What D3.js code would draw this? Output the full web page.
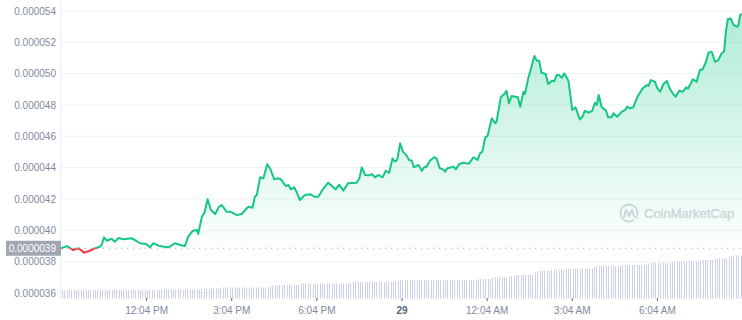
<!DOCTYPE html>
<html lang="en">
<head>
  <meta charset="UTF-8">
  <title>Price chart with D3.js</title>
  <style>
    body { margin: 0; background: #fff; }
    svg text { font-family: "Liberation Sans", Arial, sans-serif; }
  </style>
</head>
<body>

  <svg id="chart" width="742" height="320"></svg>

  <script src="https://d3js.org/d3.v7.min.js"></script>

  <script>
    // price in units of 1e-6 USD, minutes after 9:04 AM on the 28th
    var priceMinutes = [0, 13, 25, 37, 49, 61, 68, 82, 86, 91, 97, 107, 114, 121, 132, 149, 159, 167, 180, 188,
      195, 209, 224, 230, 241, 252, 262, 269, 278, 287, 290, 298, 304, 310, 317, 326, 334, 340, 350, 359,
      372, 382, 396, 405, 410, 414, 421, 428, 436, 442, 451, 459, 465, 475, 481, 486, 493, 498, 505, 516,
      527, 536, 544, 555, 565, 578, 581, 588, 597, 607, 625, 631, 636, 643, 653, 657, 664, 671, 680, 687,
      694, 701, 706, 711, 717, 723, 730, 736, 742, 746, 756, 763, 768, 773, 780, 789, 794, 801, 808, 812,
      817, 830, 835, 842, 851, 858, 863, 872, 881, 886, 891, 897, 902, 911, 918, 921, 930, 937, 942, 947,
      953, 966, 971, 978, 981, 988, 994, 1001, 1006, 1011, 1016, 1025, 1030, 1038, 1043, 1048, 1053, 1059, 1064, 1073,
      1081, 1088, 1097, 1102, 1108, 1115, 1123, 1129, 1133, 1137, 1143, 1149, 1152, 1157, 1164, 1168, 1176, 1186, 1193, 1197,
      1203, 1210, 1219, 1230, 1239, 1242, 1247, 1256, 1261, 1267, 1274, 1281, 1288, 1295, 1300, 1307, 1315, 1322, 1326, 1336,
      1344, 1351, 1357, 1364, 1369, 1376, 1383, 1390, 1397, 1402, 1406, 1410, 1416, 1422, 1429, 1432, 1436, 1440];

    var prices = [38.85, 38.99, 38.74, 38.85, 38.57, 38.69, 38.80, 38.95, 39.06, 39.55, 39.33, 39.46, 39.27, 39.50, 39.42, 39.49, 39.33, 39.17, 39.12, 38.91,
      39.17, 38.99, 38.91, 38.95, 39.17, 39.06, 38.99, 39.59, 39.95, 40.02, 39.76, 40.86, 41.18, 41.98, 41.29, 41.04, 41.50, 41.61, 41.18, 41.18,
      40.97, 41.04, 41.50, 41.44, 42.14, 42.25, 43.38, 43.32, 44.21, 43.96, 43.25, 43.32, 43.25, 42.83, 42.89, 42.61, 42.74, 42.46, 41.93, 42.25,
      42.30, 42.14, 42.14, 42.68, 43.04, 42.68, 42.61, 42.91, 42.53, 43.00, 43.04, 43.32, 44.02, 43.53, 43.51, 43.59, 43.38, 43.53, 43.38, 43.80,
      43.67, 44.59, 44.38, 44.49, 45.55, 45.02, 44.80, 44.49, 44.44, 44.02, 44.17, 43.80, 44.02, 44.06, 44.44, 44.66, 44.59, 43.96, 43.89, 43.74,
      43.96, 44.06, 43.89, 44.23, 44.31, 44.27, 44.27, 44.66, 44.49, 44.91, 45.02, 45.93, 46.02, 47.15, 46.83, 46.93, 48.49, 48.68, 48.91, 48.11,
      48.57, 48.49, 47.89, 48.85, 48.70, 49.70, 50.34, 51.13, 50.83, 50.83, 50.06, 49.98, 49.34, 49.55, 49.51, 49.91, 49.91, 49.74, 50.02, 49.55,
      47.68, 47.85, 47.08, 47.21, 47.63, 47.51, 47.61, 48.14, 48.00, 48.64, 47.89, 47.72, 47.68, 47.21, 47.21, 47.47, 47.25, 47.57, 47.68, 47.89,
      47.79, 47.85, 48.53, 49.06, 49.27, 49.21, 49.59, 49.49, 49.06, 48.85, 49.34, 49.53, 49.00, 48.68, 48.53, 48.91, 48.85, 49.13, 49.04, 49.64,
      49.49, 50.23, 50.28, 50.76, 51.34, 51.40, 50.76, 50.87, 51.30, 51.40, 52.68, 53.47, 53.53, 53.11, 53.00, 53.04, 53.74, 53.81];

    var openPrice = 38.85;
    var lastPriceLabel = "0.0000039";

    // one bar every 5 minutes
    var volumes = [8, 8, 8.5, 8.5, 8.5, 8.5, 8.5, 8.5, 8.5, 8.5, 8.5, 8.5, 8.5, 8.5, 8.5, 8.5, 8.5, 8.5, 8.5, 8.5,
      8.5, 8.5, 8.5, 8.5, 8.5, 8.5, 8.5, 8.5, 8.5, 8.5, 8.5, 8.5, 8.5, 8.5, 8.5, 8.5, 8.5, 8.5, 8.5, 8.5,
      8.5, 9, 9, 9, 9, 9, 9, 9, 9, 9, 9, 9, 9, 9, 9, 9, 9, 9, 9, 9.5,
      9.5, 10, 10, 10, 10, 10, 10.5, 10.5, 11, 11, 11, 11, 11, 11, 11, 11, 11, 11, 11, 11,
      11, 11, 11, 11, 11, 11, 11, 11, 12.5, 13, 13, 13.5, 13.5, 13.5, 13.5, 13.5, 13.5, 13.5, 13.5, 13.5,
      13.5, 15, 15, 15, 15, 15, 15, 15, 15, 15, 15, 15, 15, 15, 15, 15, 15, 15, 15, 15,
      15, 15, 16, 16.5, 16.5, 16.5, 16.5, 16.5, 16.5, 16.5, 16.5, 16.5, 16.5, 16.5, 16.5, 16.5, 16.5, 16.5, 16.5, 16.5,
      16.5, 16.5, 17.5, 18, 18, 18.5, 18.5, 18.5, 18.5, 18.5, 18.5, 18.5, 18.5, 18.5, 18.5, 18.5, 18.5, 18.5, 18.5, 18.5,
      18.5, 18.5, 18.5, 18.5, 18.5, 18.5, 18.5, 18.5, 18.5, 18.5, 18.5, 18.5, 18.5, 18.5, 18.5, 18.5, 19.5, 19.5, 19.5, 19.5,
      19.5, 19.5, 20.5, 21, 21, 21, 21, 21, 21, 22, 22.5, 23, 23.5, 23.5, 23.5, 23.5, 23.5, 23.5, 23.5, 23.5,
      26, 27, 27.5, 27.5, 27.5, 27.5, 27.5, 29, 29, 29, 29, 29, 29, 30, 30, 30, 30, 30, 30, 30,
      30, 30, 30, 30, 30, 31.5, 32, 32.5, 32.5, 32.5, 32.5, 32.5, 32.5, 32.5, 32.5, 32.5, 32.5, 33.5, 33.5, 33.5,
      33.5, 33.5, 33.5, 33.5, 33.5, 33.5, 33.5, 33.5, 35, 35.5, 36, 36, 36, 36, 36, 36, 36, 36,
      36, 37, 37, 37, 37, 37, 37, 37, 37, 37, 37, 37, 38.5, 38.5, 38.5, 38.5, 38.5, 38.5, 40, 40,
      40, 40, 40, 40, 42, 42.5, 42.5, 43, 43, 43];

    var yTicks = [36, 38, 40, 42, 44, 46, 48, 50, 52, 54];
    var tickHours = [3, 6, 9, 12, 15, 18, 21];
    var tickLabels = ["12:04 PM", "3:04 PM", "6:04 PM", "29", "12:04 AM", "3:04 AM", "6:04 AM"];

    var svg = d3.select("#chart"),
      width = +svg.attr("width"),
      start = new Date(2023, 4, 28, 9, 4),
      end = d3.timeHour.offset(start, 24),
      green = "#16c784",
      red = "#ea3943";

    var x = d3.scaleTime().domain([start, end]).range([61, 742]);
    var y = d3.scaleLinear().domain([36, 54]).range([292.9, 11]);
    var yVol = d3.scaleLinear().domain([0, 45]).range([298.5, 253.5]);
    var baseY = y(openPrice);

    var points = prices.map(function(p, i) {
      return { t: d3.timeMinute.offset(start, priceMinutes[i]), v: p };
    });

    var defs = svg.append("defs");
    var grad = defs.append("linearGradient")
      .attr("id", "upFill")
      .attr("gradientUnits", "userSpaceOnUse")
      .attr("x1", 0).attr("x2", 0)
      .attr("y1", y(54)).attr("y2", baseY);
    grad.append("stop").attr("offset", 0).attr("stop-color", green).attr("stop-opacity", 0.34);
    grad.append("stop").attr("offset", 1).attr("stop-color", green).attr("stop-opacity", 0.01);

    defs.append("clipPath").attr("id", "above")
      .append("rect").attr("x", 0).attr("y", 0).attr("width", width).attr("height", baseY);
    defs.append("clipPath").attr("id", "below")
      .append("rect").attr("x", 0).attr("y", baseY).attr("width", width).attr("height", 320 - baseY);

    // grid lines
    svg.append("g")
      .selectAll("line")
      .data(yTicks)
      .join("line")
      .attr("x1", 61).attr("x2", width)
      .attr("y1", function(d) { return y(d); })
      .attr("y2", function(d) { return y(d); })
      .attr("stroke", "#eff2f5");

    svg.append("line")
      .attr("x1", 60.5).attr("x2", 60.5)
      .attr("y1", 0).attr("y2", 299)
      .attr("stroke", "#eff2f5");

    // volume bars, snapped to whole pixels so they stay crisp
    svg.append("g")
      .selectAll("rect")
      .data(volumes)
      .join("rect")
      .attr("x", function(d, i) { return Math.round(x(d3.timeMinute.offset(start, i * 5 + 2.5))); })
      .attr("width", 1)
      .attr("y", function(d) { return yVol(d); })
      .attr("height", function(d) { return yVol(0) - yVol(d); })
      .attr("fill", "#ccd2e3");

    // watermark
    var wm = svg.append("g").attr("transform", "translate(629,213)");
    wm.append("path")
      .attr("d", d3.arc()({ innerRadius: 7.6, outerRadius: 9.4, startAngle: 2.5, endAngle: 2 * Math.PI + 1.9 }))
      .attr("fill", "#d5d9e3");
    wm.append("path")
      .attr("d", "M-5,4 L-3,-3 L0,3 L3,-3 L5,3 L8,5")
      .attr("fill", "none")
      .attr("stroke", "#d5d9e3")
      .attr("stroke-width", 2)
      .attr("stroke-linejoin", "round")
      .attr("stroke-linecap", "round");
    wm.append("text")
      .attr("x", 15).attr("y", 5)
      .attr("font-size", 13)
      .attr("fill", "#d2d6e1")
      .attr("stroke", "#d2d6e1")
      .attr("stroke-width", 0.3)
      .text("CoinMarketCap");

    // area + line
    var area = d3.area()
      .x(function(d) { return x(d.t); })
      .y0(baseY)
      .y1(function(d) { return y(d.v); });

    var line = d3.line()
      .x(function(d) { return x(d.t); })
      .y(function(d) { return y(d.v); });

    svg.append("path")
      .datum(points)
      .attr("clip-path", "url(#above)")
      .attr("d", area)
      .attr("fill", "url(#upFill)");

    svg.append("path")
      .datum(points)
      .attr("clip-path", "url(#below)")
      .attr("d", area)
      .attr("fill", red)
      .attr("fill-opacity", 0.08);

    // open price dotted line
    svg.append("line")
      .attr("x1", 61).attr("x2", width)
      .attr("y1", baseY).attr("y2", baseY)
      .attr("stroke", "#a6acb8")
      .attr("stroke-width", 1)
      .attr("stroke-dasharray", "1,5");

    svg.append("path")
      .datum(points)
      .attr("clip-path", "url(#above)")
      .attr("d", line)
      .attr("fill", "none")
      .attr("stroke", green)
      .attr("stroke-width", 2)
      .attr("stroke-linejoin", "round");

    svg.append("path")
      .datum(points)
      .attr("clip-path", "url(#below)")
      .attr("d", line)
      .attr("fill", "none")
      .attr("stroke", red)
      .attr("stroke-width", 2)
      .attr("stroke-linejoin", "round");

    // y axis
    var yAxis = svg.append("g")
      .attr("transform", "translate(56,0)")
      .call(d3.axisLeft(y)
        .tickValues(yTicks)
        .tickSize(0)
        .tickPadding(0)
        .tickFormat(function(d) { return d3.format(".6f")(d / 1e6); }));
    yAxis.select(".domain").remove();
    yAxis.selectAll("text")
      .attr("font-size", 10)
      .attr("fill", "#808a9d")
      .attr("font-family", "'Liberation Sans', Arial, sans-serif");

    // x axis
    var xAxis = svg.append("g")
      .attr("transform", "translate(0,298)")
      .call(d3.axisBottom(x)
        .tickValues(tickHours.map(function(h) { return d3.timeHour.offset(start, h); }))
        .tickSize(3)
        .tickPadding(6)
        .tickFormat(function(d, i) { return tickLabels[i]; }));
    xAxis.select(".domain").remove();
    xAxis.selectAll("line").attr("stroke", "#58667e");
    xAxis.selectAll("text")
      .attr("font-size", 10)
      .attr("font-family", "'Liberation Sans', Arial, sans-serif")
      .attr("font-weight", function(d, i) { return tickLabels[i] === "29" ? "bold" : null; })
      .attr("fill", function(d, i) { return tickLabels[i] === "29" ? "#58667e" : "#808a9d"; });

    // current price tag
    svg.append("rect")
      .attr("x", 6).attr("y", baseY - 7.5)
      .attr("width", 55).attr("height", 15)
      .attr("fill", "#a0a6b2");
    svg.append("text")
      .attr("x", 56).attr("y", baseY + 3.5)
      .attr("text-anchor", "end")
      .attr("font-size", 10)
      .attr("fill", "#fff")
      .text(lastPriceLabel);
  </script>

</body>
</html>
